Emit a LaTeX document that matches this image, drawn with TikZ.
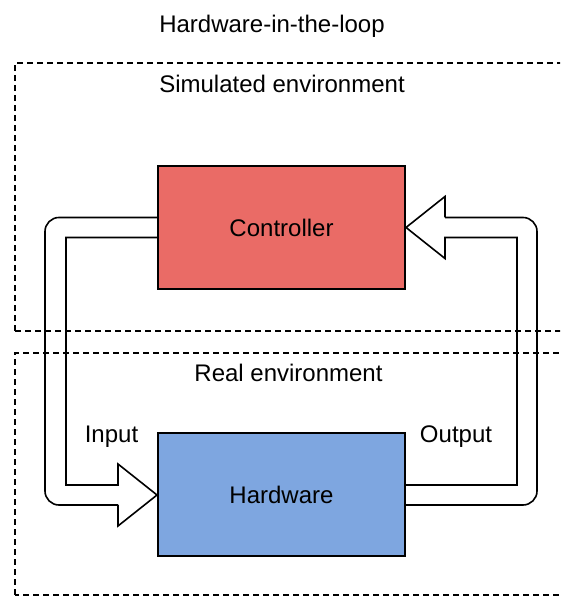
\documentclass[tikz,border=0pt]{standalone}
\usepackage{fontspec}
\setmainfont{Liberation Sans}
\usetikzlibrary{positioning}
\definecolor{ctrlred}{HTML}{EA6B66}
\definecolor{hwblue}{HTML}{7EA6E0}

\begin{document}
\begin{tikzpicture}[x=0.5pt,y=0.5pt,color=black,
	block/.style={draw,line width=1pt,minimum width=123.5pt,minimum height=61.5pt,inner sep=0pt,font=\fontsize{12}{14}\selectfont},
	envbox/.style={draw,dashed,dash pattern=on 3pt off 2pt,line width=0.6pt},
	flex/.style={draw,line width=0.8pt},
	lbl/.style={anchor=base,inner sep=0pt,font=\fontsize{12}{14}\selectfont}]
\useasboundingbox (0,0) rectangle (560,597);
\begin{scope}
\clip (0,0) rectangle (560,597);
\draw[envbox] (15,266) rectangle (575,534);
\draw[envbox] (15,2) rectangle (575,244);
\end{scope}
\node(ctrl) [block,fill=ctrlred] at (281.5,369.5) {Controller};
\node(hw) [block,fill=hwblue] at (281.5,102) {Hardware};
% input arrow
\draw[flex,rounded corners=7pt] ([yshift=5pt]ctrl.west) -| (45,92) -- (118,92);
\draw[flex] ([yshift=-5pt]ctrl.west) -| (66,112) -- (118,112) -- (118,133) -- (hw.west) -- (118,71) -- (118,92);
% output arrow
\draw[flex,rounded corners=7pt] ([yshift=-5pt]hw.east) -| (537,379.5) -- (445,379.5);
\draw[flex] ([yshift=5pt]hw.east) -| (517,359.5) -- (445,359.5) -- (445,338.5) -- (ctrl.east) -- (445,400.5) -- (445,379.5);
\node(title) [lbl] at (272,564) {Hardware-in-the-loop};
\node(sim) [lbl] at (282,504) {Simulated environment};
\node(real) [lbl] at (288.5,215) {Real environment};
\node(in) [lbl] at (111.5,154) {Input};
\node(out) [lbl] at (456,154) {Output};
\end{tikzpicture}
\end{document}
